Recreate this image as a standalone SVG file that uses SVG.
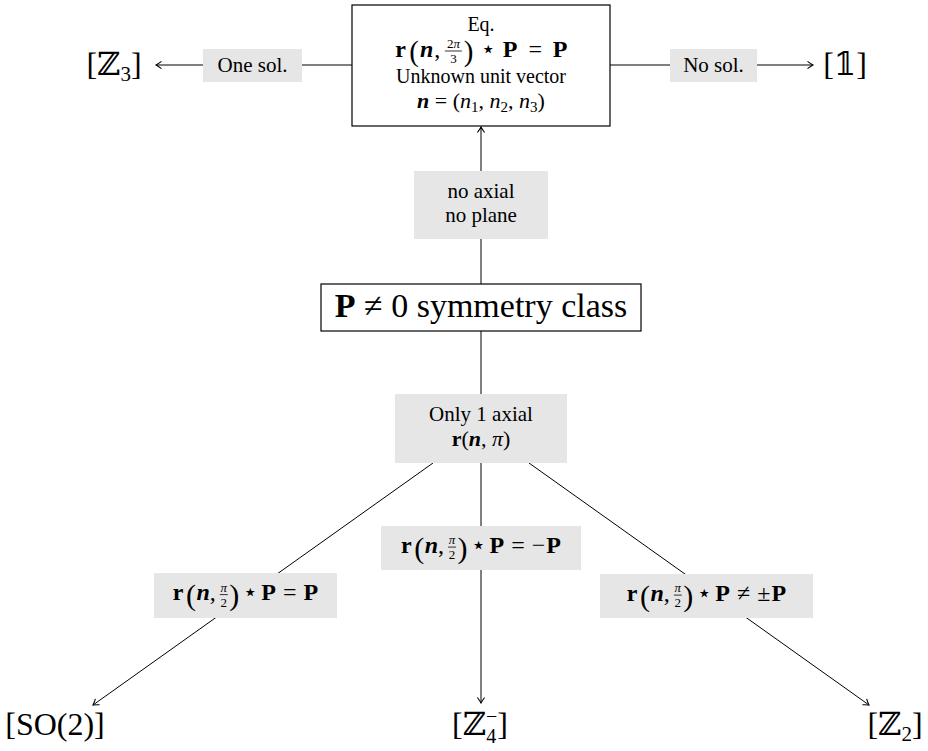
<svg xmlns="http://www.w3.org/2000/svg" width="928" height="751" viewBox="0 0 928 751">
<style>
.t{font-family:"Liberation Serif","DejaVu Serif","DejaVu Sans",serif;fill:#000}
.m{font-family:"Liberation Serif","DejaVu Serif","DejaVu Sans",serif;fill:#000;font-size:24px;text-anchor:middle}
.b{font-weight:bold}
.bi{font-weight:bold;font-style:italic}
.i{font-style:italic}
.p{font-size:30px}
.pt{font-size:29px}
.st{font-family:"DejaVu Sans",sans-serif;font-size:24px}
.fr{font-size:13px}
.box{fill:#fff;stroke:#000;stroke-width:1.2}
.lbl{fill:#e6e6e6;stroke:none}
.edge{stroke:#000;stroke-width:1;fill:none}
.bar{stroke:#000;stroke-width:0.8}
</style>
<defs>
<marker id="arr" viewBox="-7 -5 8 10" refX="0" refY="0" markerWidth="8" markerHeight="10" markerUnits="userSpaceOnUse" orient="auto">
<path d="M-5.5,-3.6 Q-2,-1 0,0 Q-2,1 -5.5,3.6" fill="none" stroke="#000" stroke-width="1.1"/>
</marker>
</defs>

<g id="connectors">
<path class="edge" d="M352,65 H156" marker-end="url(#arr)"/>
<path class="edge" d="M610,65 H813" marker-end="url(#arr)"/>
<path class="edge" d="M481,284 V127" marker-end="url(#arr)"/>
<path class="edge" d="M481,331 V394"/>
<path class="edge" d="M433,463 L93,705" marker-end="url(#arr)"/>
<path class="edge" d="M481,463 V703" marker-end="url(#arr)"/>
<path class="edge" d="M529,463 L869,705" marker-end="url(#arr)"/>
</g>

<g id="eq">
<rect class="box" x="352" y="5" width="258" height="121"/>
<text class="t" x="481" y="31" font-size="20" text-anchor="middle">Eq.</text>
<text class="m"><tspan class="b" x="400.5" y="57">r</tspan><tspan class="pt" x="414" y="61">(</tspan><tspan class="bi" x="426.65" y="57">n</tspan><tspan x="437.15" y="57">,</tspan><tspan class="fr" x="453.4" y="47.5">2<tspan class="i">π</tspan></tspan><tspan class="fr" x="453.4" y="63">3</tspan><tspan class="pt" x="468.5" y="61">)</tspan><tspan class="st" x="488.2" y="57">⋆</tspan><tspan class="b" x="510.15" y="57">P</tspan><tspan x="535.15" y="57">=</tspan><tspan class="b" x="560.15" y="57">P</tspan></text>
<line class="bar" x1="444.9" y1="51" x2="461.9" y2="51"/>
<text class="t" x="481" y="83" font-size="20" text-anchor="middle">Unknown unit vector</text>
<text class="t" x="481" y="108" font-size="22" text-anchor="middle"><tspan class="bi">n</tspan> = (<tspan class="i">n</tspan><tspan font-size="15" dy="4">1</tspan><tspan dy="-4">, </tspan><tspan class="i">n</tspan><tspan font-size="15" dy="4">2</tspan><tspan dy="-4">, </tspan><tspan class="i">n</tspan><tspan font-size="15" dy="4">3</tspan><tspan dy="-4">)</tspan></text>
</g>

<g id="lbl-one">
<rect class="lbl" x="203" y="49" width="99" height="33"/>
<text class="t" x="252.5" y="72" font-size="21" text-anchor="middle">One sol.</text>
</g>
<g id="lbl-no">
<rect class="lbl" x="670" y="49" width="87" height="33"/>
<text class="t" x="713.5" y="72" font-size="21" text-anchor="middle">No sol.</text>
</g>

<g id="z3">
<text class="t" x="114" y="75" font-size="32" text-anchor="middle">[ℤ<tspan font-size="21" dy="6">3</tspan><tspan dy="-6">]</tspan></text>
</g>
<g id="one">
<text class="t" x="845" y="75" font-size="32" text-anchor="middle">[𝟙]</text>
</g>

<g id="lbl-noaxial">
<rect class="lbl" x="414" y="171" width="134" height="68"/>
<text class="t" x="481" y="198" font-size="21" text-anchor="middle">no axial</text>
<text class="t" x="481" y="222" font-size="21" text-anchor="middle">no plane</text>
</g>

<g id="pclass">
<rect class="box" x="321" y="284" width="320" height="47"/>
<text class="t" x="481" y="317" font-size="34" text-anchor="middle"><tspan class="b">P</tspan> ≠ 0 symmetry class</text>
</g>

<g id="axial">
<rect class="lbl" x="395" y="394" width="172" height="69"/>
<text class="t" x="481" y="421" font-size="21" text-anchor="middle">Only 1 axial</text>
<text class="t" x="481" y="446" font-size="22" text-anchor="middle"><tspan class="b">r</tspan>(<tspan class="bi">n</tspan>, <tspan class="i">π</tspan>)</text>
</g>

<g id="lbl-left">
<rect class="lbl" x="154" y="573" width="183" height="45"/>
<text class="m"><tspan class="b" x="178.15" y="600">r</tspan><tspan class="p" x="191" y="605">(</tspan><tspan class="bi" x="203.15" y="600">n</tspan><tspan x="212.8" y="600">,</tspan><tspan class="fr i" x="223.8" y="591.5">π</tspan><tspan class="fr" x="223.8" y="606.5">2</tspan><tspan class="p" x="234.3" y="605">)</tspan><tspan class="st" x="250.3" y="600">⋆</tspan><tspan class="b" x="268.65" y="600">P</tspan><tspan x="289.75" y="600">=</tspan><tspan class="b" x="310.85" y="600">P</tspan></text>
<line class="bar" x1="219.8" y1="594.6" x2="227.8" y2="594.6"/>
</g>

<g id="lbl-mid">
<rect class="lbl" x="381" y="526" width="200" height="44"/>
<text class="m"><tspan class="b" x="406.4" y="552.5">r</tspan><tspan class="p" x="419.25" y="557.5">(</tspan><tspan class="bi" x="431.4" y="552.5">n</tspan><tspan x="441.05" y="552.5">,</tspan><tspan class="fr i" x="452.05" y="544">π</tspan><tspan class="fr" x="452.05" y="559">2</tspan><tspan class="p" x="462.55" y="557.5">)</tspan><tspan class="st" x="478.55" y="552.5">⋆</tspan><tspan class="b" x="496.9" y="552.5">P</tspan><tspan x="518" y="552.5">=</tspan><tspan x="538.5" y="552.5">−</tspan><tspan class="b" x="553.6" y="552.5">P</tspan></text>
<line class="bar" x1="448.05" y1="547.1" x2="456.05" y2="547.1"/>
</g>

<g id="lbl-right">
<rect class="lbl" x="600" y="574" width="213" height="44"/>
<text class="m"><tspan class="b" x="632.2" y="600.5">r</tspan><tspan class="p" x="645.05" y="605.5">(</tspan><tspan class="bi" x="657.2" y="600.5">n</tspan><tspan x="666.85" y="600.5">,</tspan><tspan class="fr i" x="677.85" y="592">π</tspan><tspan class="fr" x="677.85" y="607">2</tspan><tspan class="p" x="688.35" y="605.5">)</tspan><tspan class="st" x="704.35" y="600.5">⋆</tspan><tspan class="b" x="722.7" y="600.5">P</tspan><tspan x="743.65" y="600.5">≠</tspan><tspan x="763.85" y="600.5">±</tspan><tspan class="b" x="778.8" y="600.5">P</tspan></text>
<line class="bar" x1="673.85" y1="595.1" x2="681.85" y2="595.1"/>
</g>

<g id="so2">
<text class="t" x="55" y="735" font-size="32" text-anchor="middle">[SO(2)]</text>
</g>
<g id="z4">
<text class="t" x="480" y="735" font-size="32" text-anchor="middle">[ℤ<tspan font-size="20" dy="-12">−</tspan><tspan font-size="20" dx="-11" dy="20">4</tspan><tspan dx="1" dy="-8">]</tspan></text>
</g>
<g id="z2">
<text class="t" x="895" y="735" font-size="32" text-anchor="middle">[ℤ<tspan font-size="21" dy="6">2</tspan><tspan dy="-6">]</tspan></text>
</g>
</svg>
